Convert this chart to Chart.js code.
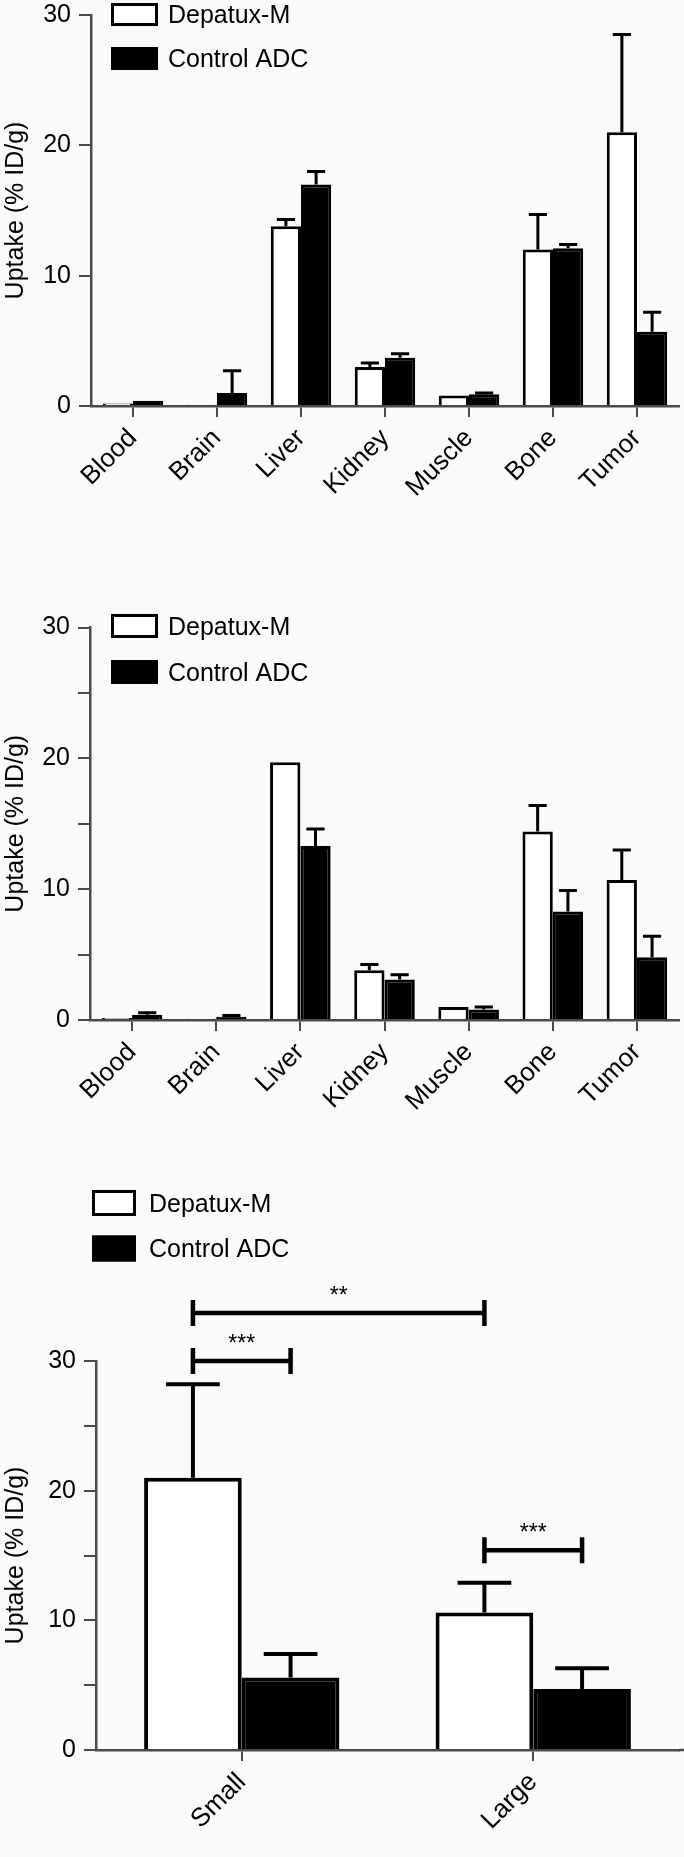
<!DOCTYPE html>
<html>
<head>
<meta charset="utf-8">
<script src="https://cdn.jsdelivr.net/npm/chart.js@4.4.1/dist/chart.umd.min.js"></script>
<style>
  html, body { margin: 0; padding: 0; background: #fafafa; }
  #page { position: relative; width: 684px; height: 1857px; }
  canvas { position: absolute; left: 0; }
</style>
</head>
<body>
<div id="page">
  <canvas id="chartTop" width="684" height="560" style="top:0px"></canvas>
  <canvas id="chartMid" width="684" height="560" style="top:560px"></canvas>
  <canvas id="chartSize" width="684" height="737" style="top:1120px"></canvas>
</div>
<script>
// --- data ---
const seriesNames = ['Depatux-M', 'Control ADC'];
const organs = ['Blood', 'Brain', 'Liver', 'Kidney', 'Muscle', 'Bone', 'Tumor'];
const tumourSizes = ['Small', 'Large'];
const yMajorTicks = [0, 10, 20, 30];
const yTitle = 'Uptake (% ID/g)';

// panel 1
const topDepatux    = [0.2, 0.1, 13.8, 3.0, 0.8, 12.0, 21.0];
const topDepatuxErr = [0,   0,   0.5,  0.3, 0,   2.7,  7.5];
const topControl    = [0.4, 1.0, 17.0, 3.7, 0.9, 12.1, 5.7];
const topControlErr = [0,   1.7, 1.0,  0.3, 0.1, 0.3,  1.5];

// panel 2
const midDepatux    = [0.15, 0.1,  19.7, 3.8,  1.0, 14.4, 10.7];
const midDepatuxErr = [0,    0,    0,    0.45, 0,   2.0,  2.3];
const midControl    = [0.4,  0.25, 13.3, 3.1,  0.8, 8.3,  4.8];
const midControlErr = [0.15, 0.1,  1.3,  0.35, 0.2, 1.6,  1.6];

// panel 3
const sizeDepatux    = [21.0, 10.6];
const sizeDepatuxErr = [7.2, 2.3];
const sizeControl    = [5.6, 4.7];
const sizeControlErr = [1.8, 1.6];

// significance brackets (panel 3): [dataset, category]
const sigText  = ['**', '***', '***'];
const sigLevel = [33.7, 30.0, 15.4];
const sigStart = [[0, 0], [0, 0], [0, 1]];
const sigEnd   = [[0, 1], [1, 0], [1, 1]];

const fontFamily = "'Liberation Sans', Arial, sans-serif";
const axisColor = '#4a4a4a';

// legend drawn as boxes + text
function boxLegend(L) {
  return {
    id: 'boxLegend',
    afterDraw(chart) {
      const ctx = chart.ctx;
      ctx.save();
      chart.data.datasets.forEach((ds, i) => {
        const top = L.y + i * L.row;
        ctx.fillStyle = ds.backgroundColor;
        ctx.fillRect(L.x, top, L.w, L.h);
        ctx.strokeStyle = '#000';
        ctx.lineWidth = 3;
        ctx.strokeRect(L.x + 1.5, top + 1.5, L.w - 3, L.h - 3);
        ctx.fillStyle = '#000';
        ctx.font = '25px ' + fontFamily;
        ctx.textBaseline = 'middle';
        ctx.textAlign = 'left';
        ctx.fillText(ds.label, L.x + L.textDx, top + L.h / 2 + 2);
      });
      ctx.restore();
    }
  };
}

// upward error bars with a cap
function errorBars(lineW, capRatio) {
  return {
    id: 'errorBars',
    afterDatasetsDraw(chart) {
      const ctx = chart.ctx;
      const y = chart.scales.y;
      ctx.save();
      ctx.strokeStyle = '#000';
      ctx.lineWidth = lineW;
      chart.data.datasets.forEach((ds, di) => {
        chart.getDatasetMeta(di).data.forEach((bar, i) => {
          const e = ds.errors[i];
          if (!e) return;
          const yTop = y.getPixelForValue(ds.data[i] + e);
          const half = bar.width * capRatio / 2;
          ctx.beginPath();
          ctx.moveTo(bar.x, bar.y);
          ctx.lineTo(bar.x, yTop);
          ctx.moveTo(bar.x - half, yTop);
          ctx.lineTo(bar.x + half, yTop);
          ctx.stroke();
        });
      });
      ctx.restore();
    }
  };
}

const sigBrackets = {
  id: 'sigBrackets',
  afterDraw(chart) {
    const ctx = chart.ctx;
    const y = chart.scales.y;
    ctx.save();
    ctx.strokeStyle = '#000';
    ctx.fillStyle = '#000';
    ctx.lineWidth = 4.5;
    sigText.forEach((t, k) => {
      const a = chart.getDatasetMeta(sigStart[k][0]).data[sigStart[k][1]];
      const b = chart.getDatasetMeta(sigEnd[k][0]).data[sigEnd[k][1]];
      const yy = y.getPixelForValue(sigLevel[k]);
      ctx.beginPath();
      ctx.moveTo(a.x, yy); ctx.lineTo(b.x, yy);
      ctx.moveTo(a.x, yy - 13); ctx.lineTo(a.x, yy + 13);
      ctx.moveTo(b.x, yy - 13); ctx.lineTo(b.x, yy + 13);
      ctx.stroke();
      ctx.font = '23px ' + fontFamily;
      ctx.textAlign = 'center';
      ctx.textBaseline = 'alphabetic';
      ctx.fillText(t, (a.x + b.x) / 2, yy - 10);
    });
    // x axis runs on to the right edge
    const xs = chart.scales.x;
    ctx.lineWidth = 2.5;
    ctx.strokeStyle = axisColor;
    ctx.beginPath();
    ctx.moveTo(chart.chartArea.right, xs.top);
    ctx.lineTo(chart.width, xs.top);
    ctx.stroke();
    ctx.restore();
  }
};

function makeChart(id, o) {
  const plugins = [errorBars(o.errW, o.capRatio), boxLegend(o.legend)];
  if (o.brackets) plugins.push(sigBrackets);
  return new Chart(document.getElementById(id), {
    type: 'bar',
    data: {
      labels: o.labels,
      datasets: [
        { label: seriesNames[0], data: o.dep, errors: o.depErr,
          backgroundColor: '#ffffff', borderColor: '#000', borderWidth: o.border },
        { label: seriesNames[1], data: o.ctl, errors: o.ctlErr,
          backgroundColor: '#000000', borderColor: '#000', borderWidth: o.border }
      ]
    },
    options: {
      responsive: false,
      animation: false,
      layout: { padding: { top: o.top, right: 5, left: 0, bottom: 0 } },
      datasets: { bar: { barPercentage: 1, categoryPercentage: o.catPct } },
      plugins: { legend: { display: false }, tooltip: { enabled: false } },
      scales: {
        x: {
          offset: true,
          grid: { offset: false, drawOnChartArea: false, tickLength: 11, color: axisColor, lineWidth: 2 },
          border: { display: true, color: axisColor, width: 2.5 },
          ticks: {
            autoSkip: false, maxRotation: 45, minRotation: 45, padding: 6,
            color: '#000', font: { family: fontFamily, size: 26 }
          },
          afterFit: s => { s.height = o.xHeight; }
        },
        y: {
          min: 0, max: 30,
          grid: { drawOnChartArea: false, tickLength: 12, color: axisColor, lineWidth: 2 },
          border: { display: true, color: axisColor, width: 2.5 },
          ticks: {
            stepSize: o.step, padding: 8, color: '#000',
            font: { family: fontFamily, size: 25 },
            callback: v => yMajorTicks.includes(v) ? String(v) : ''
          },
          title: {
            display: true, text: yTitle, color: '#000',
            font: { family: fontFamily, size: 25 }, padding: { top: 1, bottom: 0 }
          },
          afterFit: s => {
            s.width = o.yWidth;
            s.paddingTop = 0;
            s.paddingBottom = 0;
          }
        }
      }
    },
    plugins: plugins
  });
}

makeChart('chartTop', {
  labels: organs, dep: topDepatux, depErr: topDepatuxErr, ctl: topControl, ctlErr: topControlErr,
  top: 15, xHeight: 154, yWidth: 91, step: 10, catPct: 0.72, border: 3, errW: 3, capRatio: 0.6,
  legend: { x: 111, y: 3, w: 47, h: 23, row: 44, textDx: 57 }
});

makeChart('chartMid', {
  labels: organs, dep: midDepatux, depErr: midDepatuxErr, ctl: midControl, ctlErr: midControlErr,
  top: 67.5, xHeight: 100, yWidth: 90, step: 5, catPct: 0.72, border: 3, errW: 3, capRatio: 0.6,
  legend: { x: 111, y: 54, w: 47, h: 24, row: 46, textDx: 57 }
});

makeChart('chartSize', {
  labels: tumourSizes, dep: sizeDepatux, depErr: sizeDepatuxErr, ctl: sizeControl, ctlErr: sizeControlErr,
  top: 241, xHeight: 107, yWidth: 96, step: 5, catPct: 0.67, border: 4, errW: 4, capRatio: 0.55,
  legend: { x: 92, y: 70, w: 44, h: 26, row: 45.5, textDx: 57 },
  brackets: true
});
</script>
</body>
</html>
